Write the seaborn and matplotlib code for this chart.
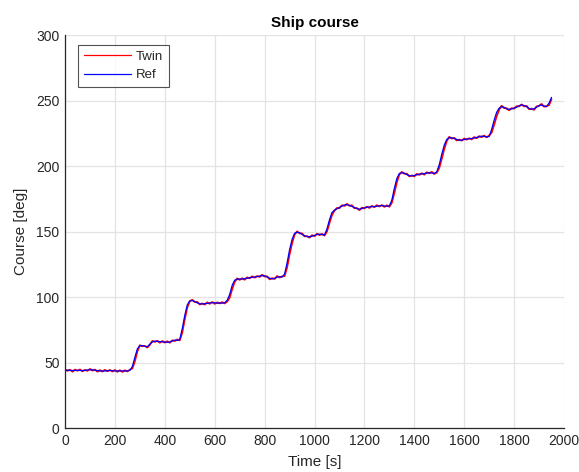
import matplotlib
matplotlib.use("Agg")
import matplotlib.pyplot as plt
import seaborn as sns
import pandas as pd
import numpy as np

# Sample times [s]
time_s = list(range(0, 1951, 10))

# Reference course [deg]
ref_course = [
    44.0, 44.2, 44.0, 43.8, 44.0, 44.1, 43.9, 43.8, 44.0, 44.3,
    44.4, 44.4, 44.1, 43.8, 43.6, 43.5, 43.6, 43.8, 43.9, 43.8,
    43.6, 43.5, 43.6, 43.6, 43.5, 43.6, 44.0, 47.0, 54.0, 60.5,
    62.8, 62.9, 62.3, 62.1, 64.0, 65.8, 66.3, 66.1, 65.9, 65.8,
    65.6, 65.4, 65.6, 66.5, 67.1, 66.9, 67.5, 76.0, 86.0, 94.0,
    97.0, 97.3, 96.5, 95.5, 94.8, 94.7, 94.9, 95.2, 95.4, 95.7,
    95.6, 95.3, 95.5, 95.3, 95.6, 97.5, 102.0, 109.0, 112.8, 113.6,
    113.7, 113.8, 114.0, 114.4, 114.7, 115.0, 115.3, 115.6, 116.0, 116.3,
    116.2, 115.3, 114.3, 113.8, 114.2, 115.2, 115.4, 115.3, 117.5, 126.0,
    136.0, 144.0, 148.6, 149.5, 149.0, 147.8, 146.8, 146.1, 146.0, 146.5,
    147.0, 147.8, 148.0, 147.6, 147.3, 152.0, 159.0, 164.5, 166.3, 167.3,
    168.4, 169.5, 170.3, 170.5, 170.0, 169.2, 168.3, 167.5, 167.0, 167.5,
    168.2, 168.5, 168.8, 169.0, 169.0, 169.3, 169.6, 169.8, 169.5, 169.3,
    169.5, 174.0, 183.0, 190.5, 194.3, 194.9, 194.5, 193.4, 192.6, 192.4,
    192.8, 193.3, 193.8, 194.0, 194.2, 194.6, 194.9, 194.7, 194.4, 195.5,
    201.0, 209.0, 216.0, 220.3, 221.6, 221.5, 221.0, 220.3, 219.6, 219.8,
    220.2, 220.6, 220.8, 221.0, 221.4, 221.8, 222.3, 222.8, 222.6, 222.3,
    222.5, 228.0, 235.0, 241.0, 244.2, 245.3, 244.8, 243.6, 243.3, 243.6,
    244.2, 244.9, 246.0, 246.6, 246.2, 245.2, 244.0, 243.3, 243.7, 244.9,
    246.2, 246.6, 245.8, 245.3, 248.0, 252.4,
]

# Digital-twin course [deg]
twin_course = [
    44.7, 43.6, 44.5, 43.0, 44.6, 43.7, 44.7, 43.3, 44.4, 43.6,
    45.1, 43.8, 44.6, 43.0, 44.2, 43.1, 44.4, 43.3, 44.3, 43.1,
    44.3, 42.9, 44.1, 42.8, 44.1, 43.2, 44.5, 45.5, 51.0, 58.5,
    63.2, 62.4, 62.7, 61.4, 63.5, 66.5, 65.7, 66.6, 65.1, 66.4,
    65.2, 66.2, 65.1, 66.9, 66.4, 67.6, 66.9, 73.0, 83.0, 92.0,
    96.8, 97.9, 96.1, 96.3, 94.3, 95.1, 94.2, 95.9, 94.8, 96.2,
    94.8, 95.9, 95.1, 96.1, 95.1, 96.5, 99.5, 106.0, 111.5, 114.2,
    113.1, 114.3, 113.2, 115.0, 114.3, 115.8, 114.8, 116.0, 115.3, 117.0,
    115.6, 115.8, 113.5, 114.4, 113.8, 116.0, 114.9, 115.7, 116.0, 122.5,
    132.5, 141.0, 147.5, 150.1, 148.6, 148.6, 146.3, 146.5, 145.3, 147.2,
    146.4, 148.3, 147.2, 148.2, 146.9, 150.0, 156.5, 162.5, 166.0, 168.0,
    167.8, 170.0, 169.5, 171.1, 169.6, 170.0, 167.8, 167.9, 166.3, 168.2,
    167.6, 169.0, 168.0, 169.6, 168.6, 170.1, 169.1, 170.2, 168.8, 170.0,
    168.9, 172.0, 179.5, 187.5, 193.5, 195.5, 194.1, 194.2, 192.1, 192.8,
    192.1, 194.0, 193.2, 194.5, 193.4, 195.2, 194.5, 195.5, 193.9, 195.0,
    198.5, 205.5, 213.0, 219.0, 222.3, 220.9, 221.5, 219.5, 220.2, 219.4,
    221.0, 220.1, 221.2, 220.3, 222.1, 221.2, 222.8, 222.0, 223.2, 221.9,
    223.3, 225.5, 231.5, 238.0, 243.0, 246.0, 244.2, 244.1, 242.5, 244.2,
    243.8, 245.7, 245.5, 247.0, 245.5, 245.9, 243.4, 243.8, 242.9, 245.5,
    245.8, 247.4, 245.3, 245.7, 246.5, 251.0,
]

x_ticks = [0, 200, 400, 600, 800, 1000, 1200, 1400, 1600, 1800, 2000]
y_ticks = [0, 50, 100, 150, 200, 250, 300]

df = pd.DataFrame({
    "Time [s]": time_s * 2,
    "Course [deg]": twin_course + ref_course,
    "Series": ["Twin"] * len(time_s) + ["Ref"] * len(time_s),
})

sns.set_style("white")
plt.rcParams["font.family"] = ["Liberation Sans", "DejaVu Sans"]

text_col = "#262626"
fig = plt.figure(figsize=(5.79, 4.72), dpi=100)
ax = fig.add_axes([0.1123, 0.0932, 0.8618, 0.8326])

sns.lineplot(
    data=df, x="Time [s]", y="Course [deg]", hue="Series",
    hue_order=["Twin", "Ref"], palette={"Twin": "#ff0000", "Ref": "#0000ff"},
    linewidth=0.9, ax=ax, estimator=None, sort=False,
)
# Twin trace slightly wider so it shows around the reference trace
ax.lines[0].set_linewidth(1.3)

ax.set_xlim(0, 2000)
ax.set_ylim(0, 300)
ax.set_xticks(x_ticks)
ax.set_yticks(y_ticks)
ax.grid(True, color="#e3e3e3", linewidth=0.9)
ax.set_axisbelow(True)

for side in ("top", "right"):
    ax.spines[side].set_visible(False)
for side in ("left", "bottom"):
    ax.spines[side].set_color(text_col)
    ax.spines[side].set_linewidth(0.9)

ax.tick_params(axis="both", direction="in", length=4, width=0.8,
               colors=text_col, labelsize=10, labelcolor=text_col, pad=4)

ax.set_xlabel("Time [s]", fontsize=11, color=text_col, labelpad=5)
ax.set_ylabel("Course [deg]", fontsize=11, color=text_col, labelpad=6)
ax.set_title("Ship course", fontsize=11, fontweight="bold", color="black", pad=6)

leg = ax.legend(loc="upper left", bbox_to_anchor=(0.026, 0.975), fontsize=9.5,
                frameon=True, fancybox=False, edgecolor="#262626",
                handlelength=3.6, handletextpad=0.3, borderpad=0.45,
                labelspacing=0.45, borderaxespad=0.0)
leg.get_frame().set_linewidth(0.8)
leg.set_title(None)

fig.savefig("out.png", dpi=100)
